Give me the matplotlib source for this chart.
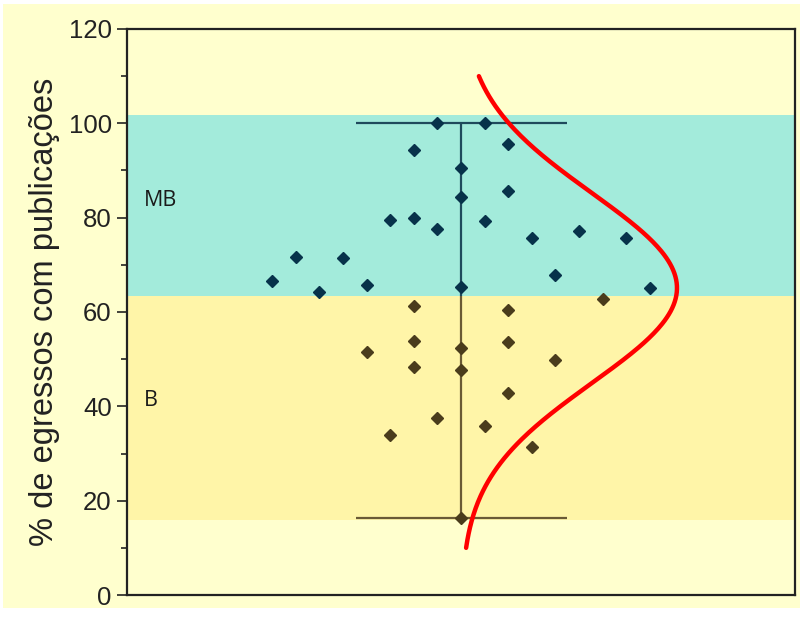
import numpy as np
import matplotlib
matplotlib.use("Agg")
import matplotlib.pyplot as plt
from matplotlib.patches import Rectangle

# % de egressos com publicações, grupo MB (muito bom) e grupo B (bom)
mb_vals = [100, 100, 94.3, 95.7, 90.6, 84.3, 85.7, 79.6, 79.9, 77.7, 79.2,
           75.6, 77.2, 75.6, 71.7, 71.5, 66.6, 64.3, 65.8, 65.3, 67.9, 65.1]
mb_cols = [-1, 1, -2, 2, 0, 0, 2, -3, -2, -1, 1,
           3, 5, 7, -7, -5, -8, -6, -4, 0, 4, 8]

b_vals = [62.8, 61.2, 60.5, 53.8, 53.6, 51.6, 52.4, 48.3, 47.6, 49.9,
          42.8, 37.5, 33.9, 35.8, 31.3, 16.4]
b_cols = [6, -2, 2, -2, 2, -4, 0, -2, 0, 4,
          2, -1, -3, 1, 3, 0]

# faixas de classificação
band_mb = [63.3, 101.8]
band_b = [15.9, 63.3]
band_labels = ['MB', 'B']

yticks = [0, 20, 40, 60, 80, 100, 120]

plt.rcParams['font.family'] = ['Liberation Sans', 'DejaVu Sans']

fig = plt.figure(figsize=(8.08, 6.18), dpi=100, facecolor='white')
fig.add_artist(Rectangle((0.0037, 0.0162), 0.9863, 0.9773, transform=fig.transFigure,
                         facecolor='#ffffce', edgecolor='none', zorder=-5))
ax = fig.add_axes([0.1572, 0.0372, 0.8267, 0.9159])
ax.set_facecolor('#ffffce')

ax.axhspan(band_mb[0], band_mb[1], color='#a3ebdb', lw=0, zorder=0)
ax.axhspan(band_b[0], band_b[1], color='#fff5a8', lw=0, zorder=0)

ax.text(-13.45, 83.6, band_labels[0], family='Open Sans', fontsize=15.5,
        color='#1a1a1a', va='center', ha='left')
ax.text(-13.45, 41.3, band_labels[1], family='Open Sans', fontsize=15.5,
        color='#1a1a1a', va='center', ha='left')

all_vals = np.array(mb_vals + b_vals)
vmin, vmax = all_vals.min(), all_vals.max()
# barra min-max
ax.vlines(0, band_b[1], vmax, color='#1f4a5c', lw=1.6, zorder=2)
ax.vlines(0, vmin, band_b[1], color='#6a5a35', lw=1.6, zorder=2)
ax.hlines(vmax, -4.45, 4.5, color='#1f4a5c', lw=1.6, zorder=2)
ax.hlines(vmin, -4.45, 4.5, color='#6a5a35', lw=1.6, zorder=2)

ax.plot(mb_cols, mb_vals, 'D', ms=6.5, color='#07324a', mec='#07324a', zorder=3)
ax.plot(b_cols, b_vals, 'D', ms=6.5, color='#4a3c1c', mec='#4a3c1c', zorder=3)

# curva normal ajustada
mu = all_vals.mean()
sd = all_vals.std(ddof=1)
yy = np.linspace(10, 110, 300)
xx = 9.15 * np.exp(-(yy - mu) ** 2 / (2 * sd ** 2))
ax.plot(xx, yy, color='#ff0000', lw=3.2, solid_capstyle='round', zorder=4)

ax.set_xlim(-14.15, 14.15)
ax.set_ylim(0, 120)
ax.set_xticks([])
ax.set_yticks(yticks)
ax.set_yticks(np.arange(10, 120, 20), minor=True)
ax.tick_params(axis='y', which='major', direction='out', length=7, width=1.2,
               labelsize=18.5, pad=4, colors='#222222')
ax.tick_params(axis='y', which='minor', direction='out', length=4, width=1.2,
               colors='#222222')
for s in ax.spines.values():
    s.set_linewidth(1.6)
    s.set_color('#222222')

ax.set_ylabel('% de egressos com publicações', fontsize=23.5, labelpad=6, color='#222222')

fig.savefig('out.png', dpi=100, facecolor='white')
